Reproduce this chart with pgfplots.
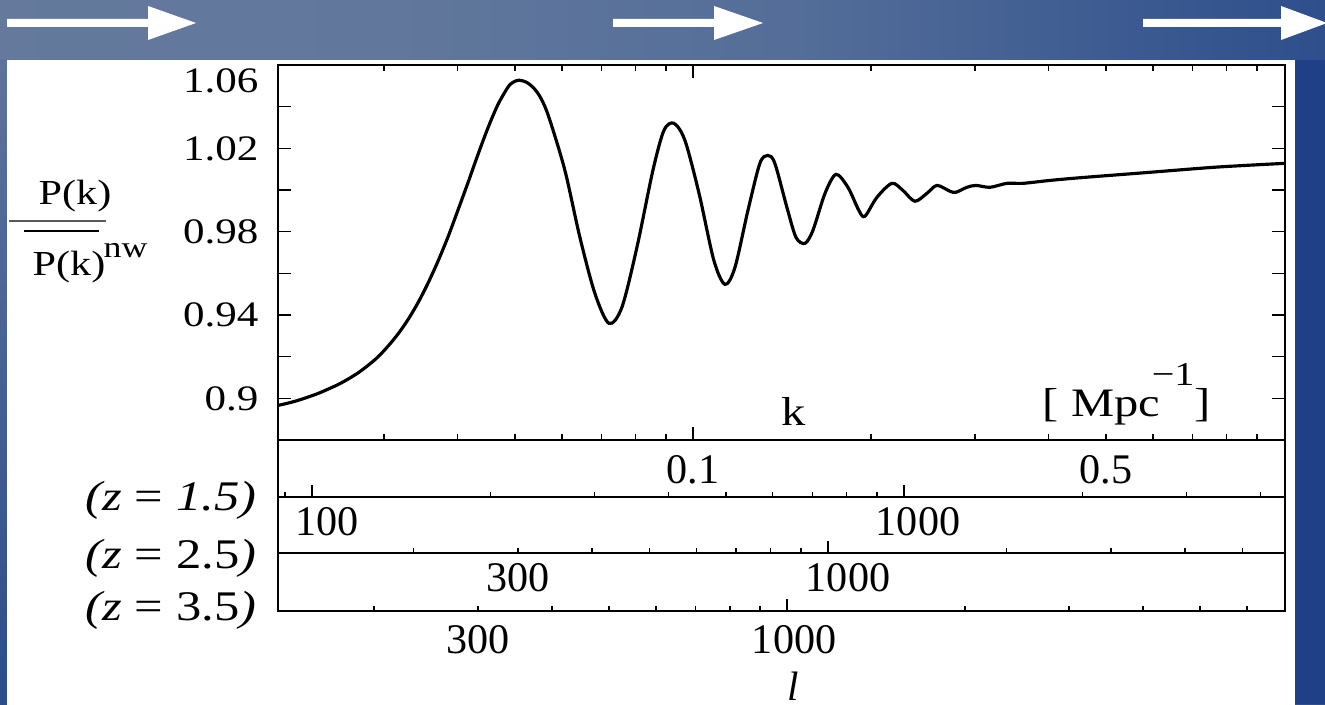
\documentclass[border=0pt]{standalone}
\usepackage{fontspec}
\setmainfont{Liberation Serif}
\newfontfamily\wide{Liberation Serif}[FakeStretch=1.2]
\usepackage{pgfplots}
\pgfplotsset{compat=1.18}

\definecolor{slideright}{rgb}{0.12,0.25,0.53}
\pgfdeclarehorizontalshading{slidebg}{100bp}{rgb(0bp)=(0.41,0.48,0.62); rgb(40bp)=(0.38,0.47,0.61); rgb(55bp)=(0.33,0.43,0.60); rgb(75bp)=(0.18,0.31,0.55); rgb(100bp)=(0.11,0.24,0.52)}

\begin{document}
\begin{tikzpicture}
% slide background, 1 unit = 1 px of the reference
\begin{scope}[x=0.1mm, y=-0.1mm, shift={(0mm,70.4mm)}]
\shade[shading=slidebg] (0,0) rectangle (1325,704);
\shade[top color={rgb,1:red,0.37;green,0.45;blue,0.61}, bottom color={rgb,1:red,0.17;green,0.30;blue,0.54}] (0,60) rectangle (7,704);
\fill[slideright] (1295,60) rectangle (1325,704);
\fill[white] (7,60) rectangle (1295,712);
\fill[white] (7,19) -- (148,19) -- (148,6) -- (196,23) -- (148,40) -- (148,27) -- (7,27) -- cycle;
\fill[white] (613,19) -- (714,19) -- (714,6) -- (763,23) -- (714,40) -- (714,27) -- (613,27) -- cycle;
\fill[white] (1143,19) -- (1281,19) -- (1281,6) -- (1327,23) -- (1281,40) -- (1281,27) -- (1143,27) -- cycle;
\end{scope}

% main panel: ratio against k
\begin{axis}[
  at={(27.8mm,26.4mm)}, anchor=south west,
  scale only axis, width=100.7mm, height=37.5mm,
  xmode=log, xmin=0.01986, xmax=1.004,
  ymin=0.88, ymax=1.06,
  axis line style={line width=0.8pt},
  tick style={black, line width=0.4pt},
  major tick length=1.3mm, minor tick length=0.6mm,
  xtick={0.1}, xticklabels={0.1},
  minor xtick={0.03,0.04,0.05,0.06,0.07,0.08,0.09,0.2,0.3,0.4,0.5,0.6,0.7,0.8,0.9},
  extra x ticks={0.5}, extra x tick labels={0.5},
  extra x tick style={major tick length=0pt},
  xticklabel style={font=\fontsize{12}{12}\selectfont, inner sep=0pt, yshift=-1.5mm},
  ytick={0.9,0.92,0.94,0.96,0.98,1.0,1.02,1.04},
  yticklabels={0.9,\mbox{},0.94,\mbox{},0.98,\mbox{},1.02,\mbox{}},
  extra y ticks={1.06}, extra y tick labels={1.06},
  extra y tick style={yticklabel style={yshift=-1.6mm}},
  yticklabel style={font=\wide\fontsize{10.2}{12}\selectfont, inner sep=0pt, xshift=-1.9mm},
]
\addplot[black, line width=0.9pt, smooth] coordinates {
(0.01986,0.8966) (0.02064,0.8977) (0.02146,0.8990) (0.02232,0.9006)
(0.02320,0.9023) (0.02413,0.9044) (0.02509,0.9066) (0.02608,0.9092)
(0.02712,0.9122) (0.02820,0.9158) (0.02932,0.9199) (0.03048,0.9250)
(0.03170,0.9309) (0.03296,0.9378) (0.03427,0.9459) (0.03563,0.9553)
(0.03704,0.9658) (0.03852,0.9775) (0.04003,0.9903) (0.04164,1.0036)
(0.04329,1.0171) (0.04501,1.0299) (0.04680,1.0411) (0.04866,1.0494)
(0.04962,1.0517) (0.05077,1.0527) (0.05230,1.0517) (0.05383,1.0488)
(0.05532,1.0440) (0.05706,1.0349) (0.06073,1.0094) (0.06438,0.9773)
(0.06825,0.9504) (0.07209,0.9360) (0.07583,0.9437) (0.08040,0.9725)
(0.08556,1.0094) (0.08932,1.0286) (0.09288,1.0320) (0.09693,1.0238)
(0.1024,0.9984) (0.1085,0.9662) (0.1133,0.9547) (0.1178,0.9629)
(0.1239,0.9902) (0.1298,1.0128) (0.1339,1.0166) (0.1376,1.0128)
(0.1442,0.9917) (0.1494,0.9773) (0.1547,0.9744) (0.1596,0.9806)
(0.1673,0.9984) (0.1746,1.0075) (0.1829,1.0013) (0.1909,0.9902)
(0.1954,0.9874) (0.2048,0.9965) (0.2171,1.0032) (0.2266,0.9998)
(0.2374,0.9946) (0.2488,0.9984) (0.2587,1.0022) (0.2722,0.9994)
(0.2786,0.9989) (0.2908,1.0013) (0.3012,1.0022) (0.3181,1.0013)
(0.3399,1.0032) (0.3618,1.0032) (0.4018,1.0046) (0.4570,1.0060)
(0.5934,1.0085) (0.7701,1.0110) (1.004,1.0128)
};
\end{axis}

% multipole scale for z = 1.5
\begin{axis}[
  at={(27.8mm,20.7mm)}, anchor=south west,
  scale only axis, width=100.7mm, height=5.7mm,
  xmode=log, xmin=87.6, xmax=4401, ymin=0, ymax=1, ytick=\empty,
  axis line style={line width=0.8pt},
  tick style={black, line width=0.4pt},
  xtick pos=left, xtick align=inside,
  major tick length=0pt, minor tick length=0.5mm,
  xtick={106,1056}, xticklabels={100,1000},
  minor xtick={90,200,300,400,500,600,700,800,900,2000,3000,4000},
  extra x ticks={100,1000}, extra x tick labels={\mbox{},\mbox{}},
  extra x tick style={major tick length=1.2mm},
  xticklabel style={font=\fontsize{12}{12}\selectfont, inner sep=0pt, yshift=-1mm},
]
\end{axis}

% multipole scale for z = 2.5
\begin{axis}[
  at={(27.8mm,15.1mm)}, anchor=south west,
  scale only axis, width=100.7mm, height=5.6mm,
  xmode=log, xmin=118.2, xmax=5898, ymin=0, ymax=1, ytick=\empty,
  axis line style={line width=0.8pt},
  tick style={black, line width=0.4pt},
  xtick pos=left, xtick align=inside,
  major tick length=0pt, minor tick length=0.5mm,
  xtick={300,1081}, xticklabels={300,1000},
  minor xtick={200,300,400,500,600,700,800,900,2000,3000,4000,5000},
  extra x ticks={1000}, extra x tick labels={\mbox{}},
  extra x tick style={major tick length=1.2mm},
  xticklabel style={font=\fontsize{12}{12}\selectfont, inner sep=0pt, yshift=-1mm},
]
\end{axis}

% multipole scale for z = 3.5
\begin{axis}[
  at={(27.8mm,9.3mm)}, anchor=south west,
  scale only axis, width=100.7mm, height=5.8mm,
  xmode=log, xmin=137.6, xmax=6960, ymin=0, ymax=1, ytick=\empty,
  axis line style={line width=0.8pt},
  tick style={black, line width=0.4pt},
  xtick pos=left, xtick align=inside,
  major tick length=0pt, minor tick length=0.5mm,
  xtick={300,1028}, xticklabels={300,1000},
  minor xtick={200,300,400,500,600,700,800,900,2000,3000,4000,5000,6000},
  extra x ticks={1000}, extra x tick labels={\mbox{}},
  extra x tick style={major tick length=1.2mm},
  xticklabel style={font=\fontsize{12}{12}\selectfont, inner sep=0pt, yshift=-1.4mm},
]
\end{axis}

% labels
\begin{scope}[x=0.1mm, y=-0.1mm, shift={(0mm,70.4mm)}]
\node[anchor=base, inner sep=0pt] at (75,204) {\wide\fontsize{10}{12}\selectfont P(k)};
\draw[black!65, line width=0.6pt] (9,221) -- (106,221);
\draw[black, line width=0.45pt] (24,231) -- (99,231);
\node[anchor=base west, inner sep=0pt] at (32,276) {\wide\fontsize{10}{12}\selectfont P(k)};
\node[anchor=base west, inner sep=0pt] at (103,257) {\wide\fontsize{8.5}{10}\selectfont nw};
\node[anchor=base, inner sep=0pt] at (794,425) {\wide\fontsize{11.5}{12}\selectfont k};
\node[anchor=base west, inner sep=0pt] at (1042,416) {\wide\fontsize{11.5}{12}\selectfont [ Mpc\kern-0.2em\raisebox{0.75em}{\fontsize{9.5}{9.5}\selectfont −1}]};
\node[anchor=base east, inner sep=0pt] at (257,510) {\wide\fontsize{12}{12}\selectfont\textit{(z} = \textit{1.5)}};
\node[anchor=base east, inner sep=0pt] at (257,568) {\wide\fontsize{12}{12}\selectfont\textit{(z} = 2.5\textit{)}};
\node[anchor=base east, inner sep=0pt] at (257,620) {\wide\fontsize{12}{12}\selectfont\textit{(z} = 3.5\textit{)}};
\node[anchor=base, inner sep=0pt] at (793,700) {\fontsize{11.7}{12}\selectfont\textit{l}};
\end{scope}
\pgfresetboundingbox
\path (0,0) rectangle (132.5mm,70.4mm);
\end{tikzpicture}
\end{document}
